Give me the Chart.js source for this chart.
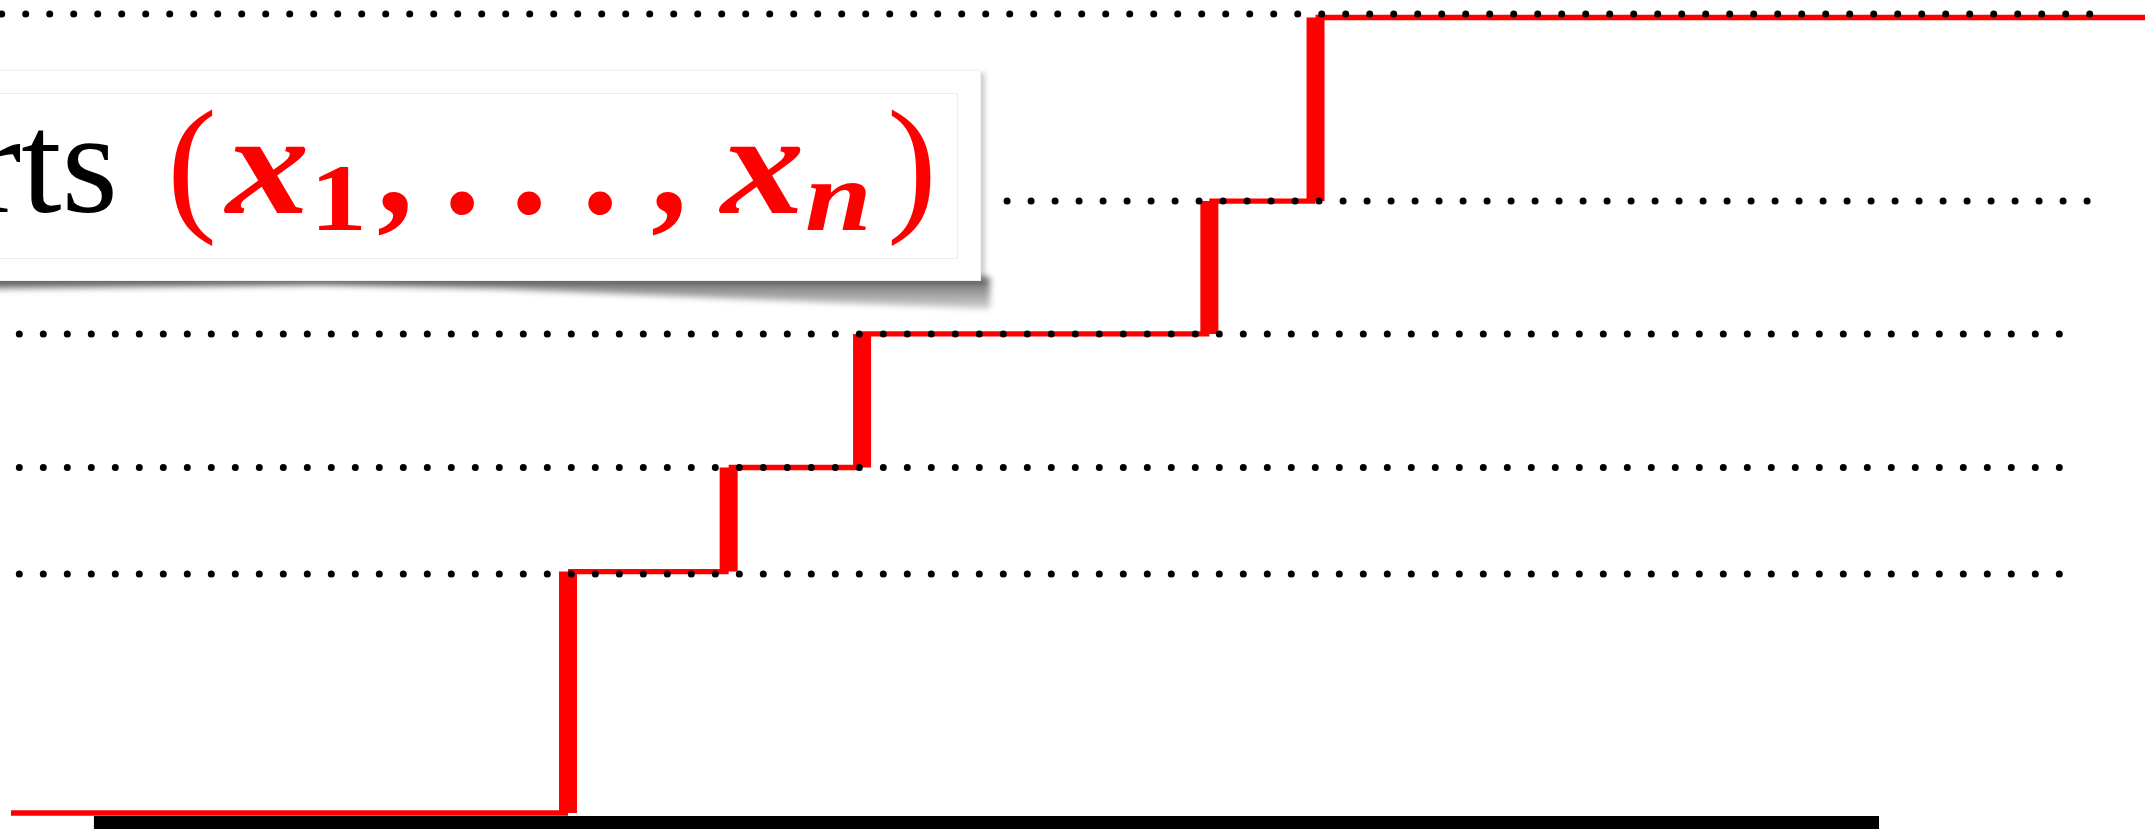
<!DOCTYPE html>
<html>
<head>
<meta charset="utf-8">
<script src="https://cdn.jsdelivr.net/npm/chart.js@4.4.0/dist/chart.umd.min.js"></script>
<style>
  html, body { margin: 0; padding: 0; background: #fff; overflow: hidden; }
  #wrap { position: relative; width: 2145px; height: 829px; }
  #ecdf { position: absolute; left: 0; top: 0; }
  /* the callout box, cut off on the left like the slide */
  .callout-shadow {
    position: absolute; left: -60px; top: 277px; width: 1050px; height: 36px;
    filter: blur(3px);
  }
  .callout-shadow div {
    width: 100%; height: 100%;
    background: linear-gradient(to bottom, rgba(0,0,0,0.6), rgba(0,0,0,0.4) 40%, rgba(0,0,0,0.12));
    clip-path: polygon(0 0, 1050px 0, 1050px 32px, 800px 22px, 560px 12px, 380px 8px, 60px 12px, 0 13px);
  }
  .callout {
    position: absolute; left: -60px; top: 70px; width: 1041px; height: 211px;
    background: #fff; border: 1px solid #f0f0f0; box-sizing: border-box;
    box-shadow: 4px 3px 5px rgba(0,0,0,0.2);
  }
  .callout .inner {
    position: absolute; left: 0; top: 22px; right: 22px; bottom: 21px;
    border: 1px solid #eeeeee;
  }
  .label span {
    position: absolute; white-space: nowrap; line-height: 1;
    font-family: "Liberation Serif", "DejaVu Serif", serif;
    transform-origin: left bottom;
  }
  .label .txt { font-size: 145px; top: 91px; color: #000; }
  .label .par { font-size: 150px; top: 88px; color: #ff0000; }
  .label .mb { font-size: 145px; top: 92px; color: #ff0000; font-weight: bold; }
  .label .mx { font-size: 145px; top: 92px; color: #ff0000; font-weight: bold; font-style: italic; transform: scaleX(1.15); }
  .label .s1 { font-size: 95px; top: 151px; color: #ff0000; font-weight: bold; transform: scaleX(1.2); }
  .label .sn { font-size: 100px; top: 147px; color: #ff0000; font-weight: bold; font-style: italic; transform: scaleX(1.2); }
</style>
</head>
<body>
<div id="wrap">
  <canvas id="ecdf" width="2145" height="829"></canvas>
  <div class="callout-shadow"><div></div></div>
  <div class="callout"><div class="inner"></div></div>
  <div class="label">
    <span class="txt" style="left:-27px">rts</span>
    <span class="par" style="left:167px">(</span>
    <span class="mx" style="left:226px">x</span>
    <span class="s1" style="left:310px">1</span>
    <span class="mb" style="left:377px">,</span>
    <span class="mb" style="left:444px">.</span>
    <span class="mb" style="left:511px">.</span>
    <span class="mb" style="left:582px">.</span>
    <span class="mb" style="left:651px">,</span>
    <span class="mx" style="left:721px">x</span>
    <span class="sn" style="left:805px">n</span>
    <span class="par" style="left:887px">)</span>
  </div>
</div>
<script>
// ── empirical CDF of the sample (x1, ..., xn) ──
const xMin = 0, xMax = 100;
const yMin = -0.0201, yMax = 1.022;

// where the step function jumps (sorted sample points)
const jumpX = [26.48, 33.97, 40.19, 56.38, 61.33];
// height of each flat piece, left to right
const stepLevels = [0, 0.3035, 0.4343, 0.6022, 0.7693, 1.0];
const stepStart = 0.51, stepEnd = 100;

// dotted reference levels
const guideLevels = [0.3004, 0.4343, 0.6022, 0.7693, 1.0044];
const guideStart = [0.9, 0.9, 0.9, 46.95, 0.08];
const guideEnd = [96.05, 96.05, 96.05, 97.30, 98.54];

// heavy black base line
const baseStart = 4.38, baseEnd = 87.6, baseLevel = -0.0201;

function ecdfPoints() {
  const pts = [{ x: stepStart, y: stepLevels[0] }];
  jumpX.forEach((x, i) => {
    pts.push({ x: x, y: stepLevels[i] });
    pts.push({ x: x, y: stepLevels[i + 1] });
  });
  pts.push({ x: stepEnd, y: stepLevels[stepLevels.length - 1] });
  return pts;
}

const guides = guideLevels.map((lvl, i) => ({
  data: [{ x: guideStart[i], y: lvl }, { x: guideEnd[i], y: lvl }],
  borderColor: '#000',
  borderWidth: 7,
  borderDash: [0, 24],
  borderCapStyle: 'round',
  pointRadius: 0,
  order: 0
}));

new Chart(document.getElementById('ecdf').getContext('2d'), {
  type: 'line',
  data: {
    datasets: [
      ...guides,
      {
        data: ecdfPoints(),
        borderColor: '#ff0000',
        borderWidth: 5.3,
        borderCapStyle: 'butt',
        pointRadius: 0,
        tension: 0,
        order: 1,
        // vertical jumps are drawn much heavier than the flat parts
        segment: { borderWidth: c => c.p0.parsed.x === c.p1.parsed.x ? 18 : 5.3 }
      },
      {
        data: [{ x: baseStart, y: baseLevel }, { x: baseEnd, y: baseLevel }],
        borderColor: '#000',
        borderWidth: 26,
        borderCapStyle: 'butt',
        pointRadius: 0,
        order: 2
      }
    ]
  },
  options: {
    responsive: false,
    animation: false,
    layout: { padding: 0 },
    plugins: { legend: { display: false }, tooltip: { enabled: false } },
    scales: {
      x: { type: 'linear', min: xMin, max: xMax, display: false },
      y: { type: 'linear', min: yMin, max: yMax, display: false }
    }
  }
});
</script>
</body>
</html>
